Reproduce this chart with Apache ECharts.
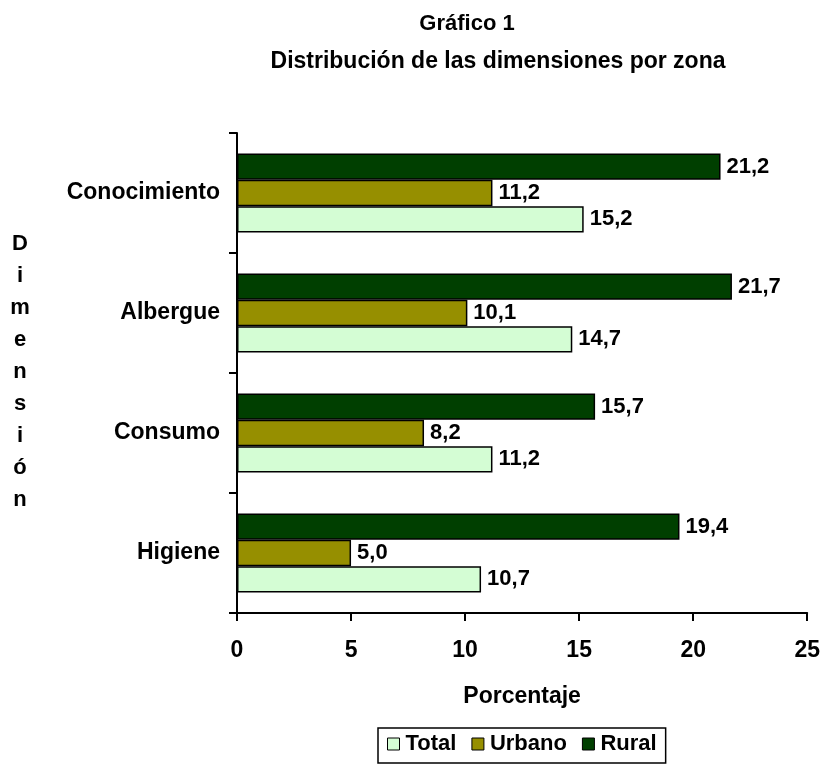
<!DOCTYPE html>
<html>
<head>
<meta charset="utf-8">
<script src="https://cdn.jsdelivr.net/npm/echarts@6/dist/echarts.min.js"></script>
<style>
  html, body { margin: 0; padding: 0; background: #fff; }
  #chart { width: 823px; height: 764px; }
</style>
</head>
<body>
<div id="chart"></div>
<script>
var categories = ["Conocimiento", "Albergue", "Consumo", "Higiene"];
var rural = [21.2, 21.7, 15.7, 19.4];
var urbano = [11.2, 10.1, 8.2, 5.0];
var total = [15.2, 14.7, 11.2, 10.7];
var axisLetters = ["D", "i", "m", "e", "n", "s", "i", "ó", "n"];

var fam = "'Liberation Sans', Arial, sans-serif";

function fmt(p) {
  return p.value.toFixed(1).replace(".", ",");
}

function barSeries(name, data, color) {
  return {
    name: name,
    type: "bar",
    data: data,
    barGap: "0%",
    barCategoryGap: "34%",
    itemStyle: { color: color, borderColor: "#000", borderWidth: 1.5 },
    label: {
      show: true,
      position: "right",
      distance: 6,
      formatter: fmt,
      color: "#000",
      fontFamily: fam,
      fontWeight: "bold",
      fontSize: 22
    }
  };
}

var myChart = echarts.init(document.getElementById("chart"));
var option = {
  animation: false,
  title: [
    {
      text: "Gráfico 1",
      left: 462,
      top: 8,
      textAlign: "center",
      textStyle: { fontFamily: fam, fontWeight: "bold", fontSize: 22, color: "#000" }
    },
    {
      text: "Distribución de las dimensiones por zona",
      left: 493,
      top: 45,
      textAlign: "center",
      textStyle: { fontFamily: fam, fontWeight: "bold", fontSize: 23, color: "#000" }
    }
  ],
  graphic: [
    {
      type: "text",
      x: 20,
      y: 228,
      style: {
        text: axisLetters.join("\n"),
        fill: "#000",
        font: "bold 22px " + fam,
        lineHeight: 32,
        align: "center",
        verticalAlign: "top"
      }
    }
  ],
  legend: {
    data: ["Total", "Urbano", "Rural"],
    icon: "rect",
    top: 728,
    left: 378,
    orient: "horizontal",
    borderColor: "#000",
    borderWidth: 1.5,
    padding: [5, 9, 8, 9],
    itemGap: 15,
    itemWidth: 12,
    itemHeight: 12,
    itemStyle: { borderColor: "#000", borderWidth: 1 },
    textStyle: { fontFamily: fam, fontWeight: "bold", fontSize: 22, color: "#000", padding: [0, 0, 0, 1] }
  },
  grid: { left: 237, right: 13, top: 133, bottom: 151 },
  xAxis: {
    type: "value",
    min: 0,
    max: 25,
    interval: 5,
    name: "Porcentaje",
    nameLocation: "middle",
    nameGap: 72,
    nameTextStyle: { fontFamily: fam, fontWeight: "bold", fontSize: 23, color: "#000" },
    splitLine: { show: false },
    axisLine: { show: true, lineStyle: { color: "#000", width: 2 } },
    axisTick: { show: true, inside: false, length: 8, lineStyle: { color: "#000", width: 2 } },
    axisLabel: { margin: 26, fontFamily: fam, fontWeight: "bold", fontSize: 23, color: "#000" }
  },
  yAxis: {
    type: "category",
    inverse: true,
    data: categories,
    axisLine: { show: true, lineStyle: { color: "#000", width: 2 } },
    axisTick: { show: true, inside: false, length: 8, lineStyle: { color: "#000", width: 2 } },
    axisLabel: { margin: 17, fontFamily: fam, fontWeight: "bold", fontSize: 23, color: "#000" }
  },
  series: [
    barSeries("Rural", rural, "#003f00"),
    barSeries("Urbano", urbano, "#968f00"),
    barSeries("Total", total, "#d4fdd4")
  ]
};
myChart.setOption(option, true);
</script>
</body>
</html>
